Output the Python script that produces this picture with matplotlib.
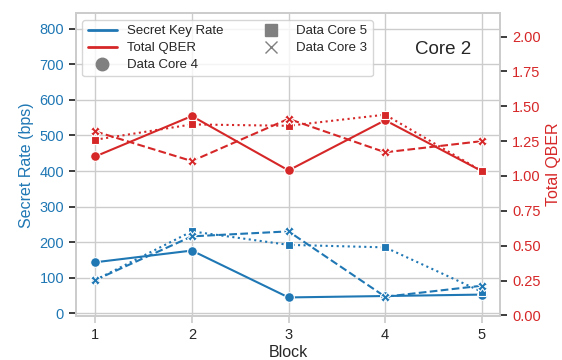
import matplotlib
matplotlib.use('Agg')
import matplotlib.pyplot as plt
import seaborn as sns
from matplotlib.lines import Line2D

sns.set_theme(style='whitegrid', rc={'xtick.bottom': True, 'ytick.left': True})
plt.rcParams['font.family'] = ['Arial', 'Liberation Sans', 'DejaVu Sans']

blocks = [1, 2, 3, 4, 5]

# secret key rate (bps)
skr_core4 = [143, 176, 44, 48, 52]
skr_core5 = [93, 230, 192, 185, 60]
skr_core3 = [93, 216, 230, 46, 77]

# total QBER
qber_core4 = [1.14, 1.43, 1.04, 1.40, 1.035]
qber_core5 = [1.26, 1.37, 1.36, 1.44, 1.035]
qber_core3 = [1.32, 1.107, 1.41, 1.17, 1.25]

blue = '#1f77b4'
red = '#d62728'

fig, ax = plt.subplots(figsize=(5.62, 3.6), dpi=100)
ax2 = ax.twinx()

styles = [('o', '-', 7), ('s', ':', 6), ('X', '--', 7)]
for (m, ls, ms), y in zip(styles, [skr_core4, skr_core5, skr_core3]):
    ax.plot(blocks, y, color=blue, marker=m, linestyle=ls, markersize=ms,
            markeredgecolor='white', markeredgewidth=0.8, linewidth=1.5)
for (m, ls, ms), y in zip(styles, [qber_core4, qber_core5, qber_core3]):
    ax2.plot(blocks, y, color=red, marker=m, linestyle=ls, markersize=ms,
             markeredgecolor='white', markeredgewidth=0.8, linewidth=1.5)

ax.set_ylim(-8.5, 844)
ax.set_yticks(range(0, 801, 100))
ax2.set_ylim(-0.005, 2.167)
ax2.set_yticks([0, 0.25, 0.5, 0.75, 1.0, 1.25, 1.5, 1.75, 2.0])
ax2.set_yticklabels(['%.2f' % v for v in ax2.get_yticks()])
ax.set_xlim(0.8, 5.19)
ax.set_xticks(blocks)
ax2.grid(False)

ax.tick_params(axis='y', colors=blue, labelsize=10.5, length=5)
ax.tick_params(axis='y', which='both', color='#262626')
ax2.tick_params(axis='y', colors=red, labelsize=10.5, length=5, right=True)
ax2.tick_params(axis='y', color='#262626')
ax.tick_params(axis='x', labelsize=10.5, color='#cccccc', length=5)

ax.set_xlabel('Block', fontsize=11.5, labelpad=2)
ax.set_ylabel('Secret Rate (bps)', color=blue, fontsize=11.5)
ax2.set_ylabel('Total QBER', color=red, fontsize=11.5)

ax.text(0.865, 0.88, 'Core 2', transform=ax.transAxes, fontsize=13.5,
        ha='center', va='center', color='#262626')

handles = [
    Line2D([], [], color=blue, lw=2, label='Secret Key Rate'),
    Line2D([], [], color=red, lw=2, label='Total QBER'),
    Line2D([], [], color='gray', marker='o', ls='', markersize=9, label='Data Core 4'),
    Line2D([], [], color='gray', marker='s', ls='', markersize=9, label='Data Core 5'),
    Line2D([], [], color='gray', marker='x', ls='', markersize=9, label='Data Core 3'),
]
ax.legend(handles=handles, ncol=2, loc='upper left', fontsize=9.5,
          frameon=True, borderpad=0.4, labelspacing=0.35, columnspacing=2.5,
          handlelength=2.2, bbox_to_anchor=(0.0, 1.0))

fig.subplots_adjust(left=0.135, right=0.89, top=0.963, bottom=0.122)
fig.savefig('out.png', dpi=100)
